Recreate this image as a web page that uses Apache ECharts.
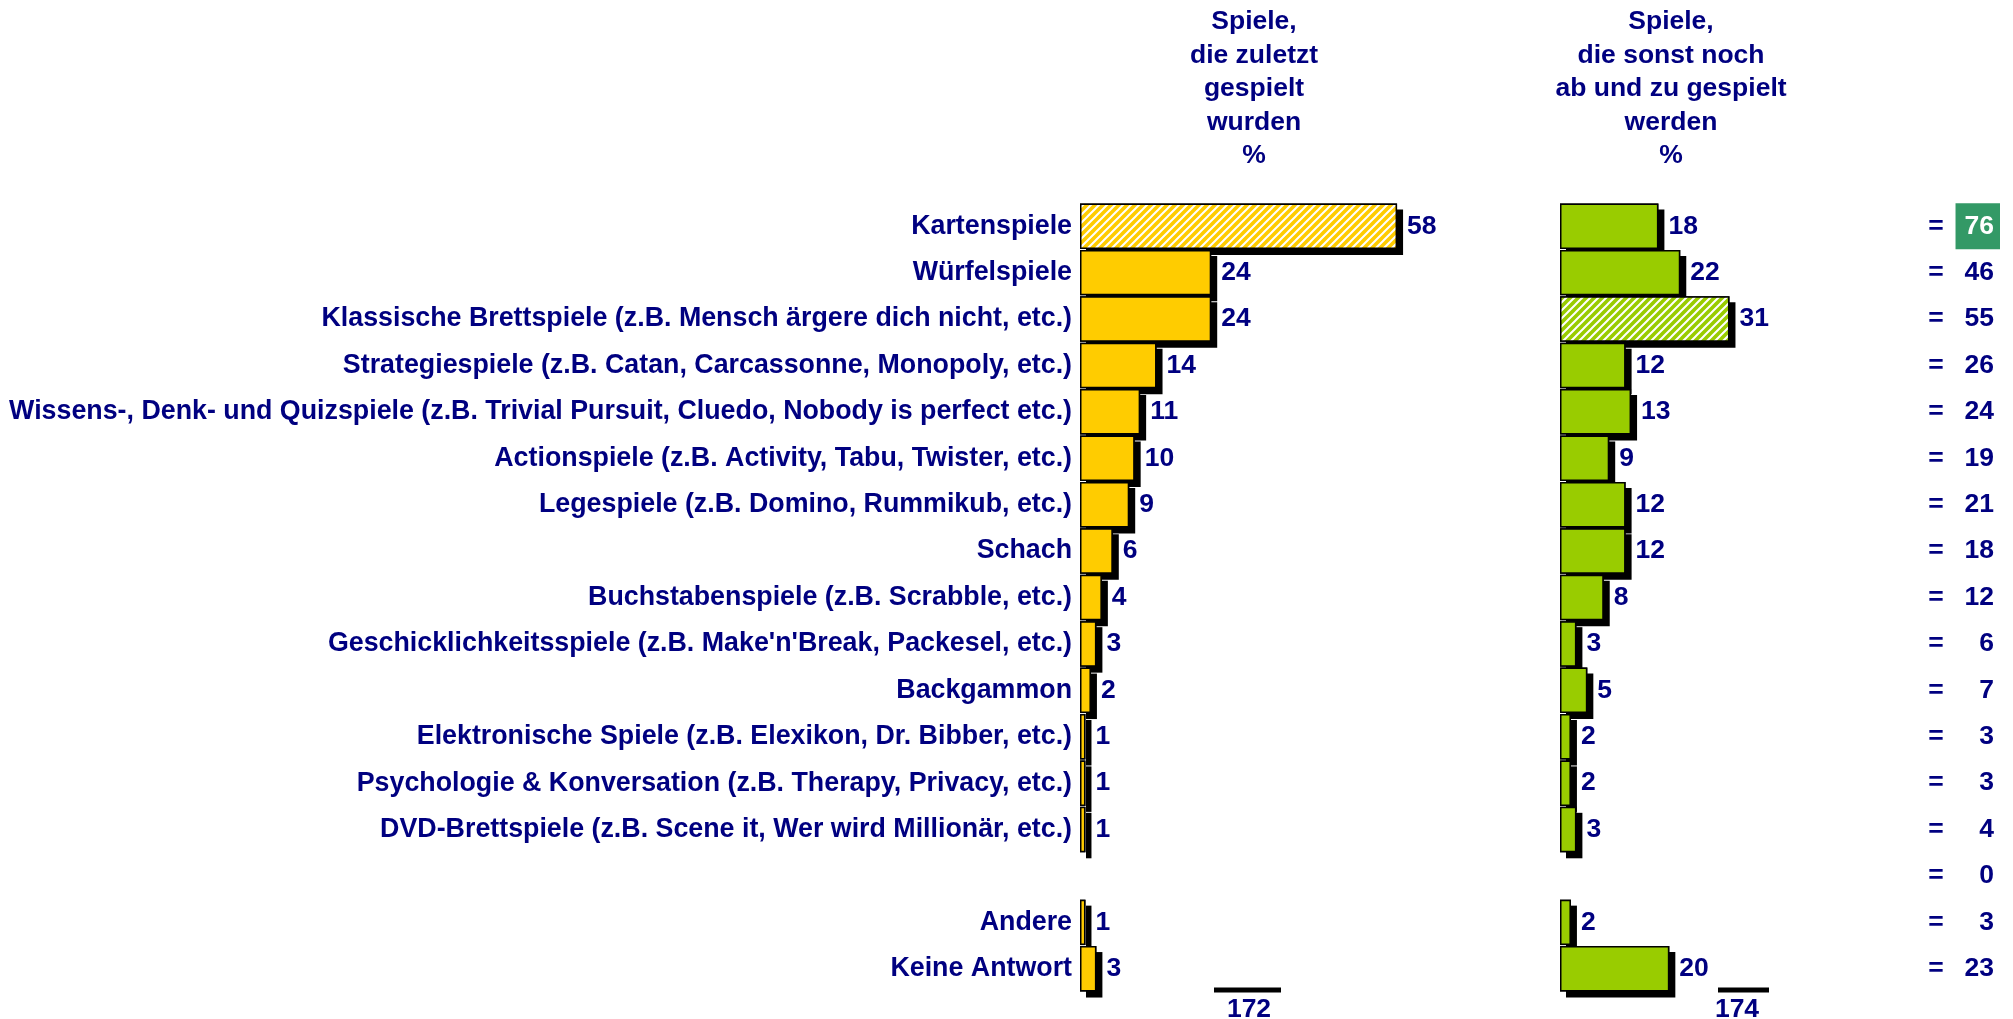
<!DOCTYPE html>
<html>
<head>
<meta charset="utf-8">
<script src="https://cdn.jsdelivr.net/npm/echarts@6.0.0/dist/echarts.min.js"></script>
<style>
  html, body { margin: 0; padding: 0; background: #fff; }
  #main { width: 2013px; height: 1019px; }
</style>
</head>
<body>
<div id="main"></div>
<script>
// daten aus der grafik
const categories = [
  'Kartenspiele',
  'Würfelspiele',
  'Klassische Brettspiele (z.B. Mensch ärgere dich nicht, etc.)',
  'Strategiespiele (z.B. Catan, Carcassonne, Monopoly, etc.)',
  'Wissens-, Denk- und Quizspiele (z.B. Trivial Pursuit, Cluedo, Nobody is perfect etc.)',
  'Actionspiele (z.B. Activity, Tabu, Twister, etc.)',
  'Legespiele (z.B. Domino, Rummikub, etc.)',
  'Schach',
  'Buchstabenspiele (z.B. Scrabble, etc.)',
  'Geschicklichkeitsspiele (z.B. Make\'n\'Break, Packesel, etc.)',
  'Backgammon',
  'Elektronische Spiele (z.B. Elexikon, Dr. Bibber, etc.)',
  'Psychologie & Konversation (z.B. Therapy, Privacy, etc.)',
  'DVD-Brettspiele (z.B. Scene it, Wer wird Millionär, etc.)',
  '',
  'Andere',
  'Keine Antwort'
];
const zuletzt = [58, 24, 24, 14, 11, 10, 9, 6, 4, 3, 2, 1, 1, 1, null, 1, 3];
const sonst = [18, 22, 31, 12, 13, 9, 12, 12, 8, 3, 5, 2, 2, 3, null, 2, 20];
const summe = [76, 46, 55, 26, 24, 19, 21, 18, 12, 6, 7, 3, 3, 4, 0, 3, 23];
const totals = [172, 174];
const hatchZuletzt = 0;   // index mit schraffur links
const hatchSonst = 2;     // index mit schraffur rechts
const highlightSum = 0;   // index mit gruenem kasten

const NAVY = '#000080';
const FONT = '"Liberation Sans", Arial, sans-serif';
const FS = 26.5;

function hatch(base) {
  const c = document.createElement('canvas');
  c.width = 8; c.height = 8;
  const ctx = c.getContext('2d');
  ctx.fillStyle = base;
  ctx.fillRect(0, 0, 8, 8);
  ctx.strokeStyle = '#ffffff';
  ctx.lineWidth = 2;
  ctx.beginPath();
  ctx.moveTo(-2, 10); ctx.lineTo(10, -2);
  ctx.moveTo(-6, 6); ctx.lineTo(6, -6);
  ctx.moveTo(2, 14); ctx.lineTo(14, 2);
  ctx.stroke();
  return { image: c, repeat: 'repeat' };
}

function barData(values, hatchIdx, base) {
  return values.map((v, i) => {
    if (v == null) return '-';
    if (hatchIdx != null && i === hatchIdx) return { value: v, itemStyle: { color: hatch(base) } };
    return v;
  });
}

const chart = echarts.init(document.getElementById('main'));

const gridTop = 203, gridH = 789;
const valLabel = {
  show: true,
  position: 'right',
  distance: 10,
  color: NAVY,
  fontFamily: FONT,
  fontWeight: 'bold',
  fontSize: FS
};
const headerStyle = {
  color: NAVY,
  fontFamily: FONT,
  fontWeight: 'bold',
  fontSize: FS,
  lineHeight: 33.5,
  align: 'center'
};

// schatten-balken (schwarz, versetzt), danach die farbigen balken darueber
function shadowSeries(values, gi) {
  return {
    type: 'bar',
    xAxisIndex: gi, yAxisIndex: gi,
    barCategoryGap: '2%',
    silent: true,
    data: barData(values, null),
    itemStyle: {
      color: '#000',
      shadowColor: '#000',
      shadowBlur: 0,
      shadowOffsetX: 6,
      shadowOffsetY: 6
    }
  };
}
function mainSeries(name, values, gi, hatchIdx, color) {
  return {
    name: name,
    type: 'bar',
    xAxisIndex: gi, yAxisIndex: gi,
    barCategoryGap: '2%',
    barGap: '-100%',
    data: barData(values, hatchIdx, color),
    itemStyle: { color: color, borderColor: '#000', borderWidth: 1.5 },
    label: valLabel
  };
}

const option = {
  animation: false,
  backgroundColor: '#fff',
  title: [
    { text: 'Spiele,\ndie zuletzt\ngespielt\nwurden\n%', left: 1249, top: 0, textAlign: 'center', textStyle: headerStyle },
    { text: 'Spiele,\ndie sonst noch\nab und zu gespielt\nwerden\n%', left: 1666, top: 0, textAlign: 'center', textStyle: headerStyle }
  ],
  grid: [
    { left: 1080, top: gridTop, width: 328, height: gridH, outerBoundsMode: 'none' },
    { left: 1560, top: gridTop, width: 328, height: gridH, outerBoundsMode: 'none' },
    { left: 1900, top: gridTop, width: 100, height: gridH, outerBoundsMode: 'none' }
  ],
  xAxis: [0, 1, 2].map(i => ({
    type: 'value', gridIndex: i, min: 0, max: i < 2 ? 60 : 100, show: false
  })),
  yAxis: [0, 1, 2].map(i => ({
    type: 'category',
    gridIndex: i,
    data: categories,
    inverse: true,
    axisLine: { show: false },
    axisTick: { show: false },
    splitLine: { show: false },
    axisLabel: i === 0 ? {
      show: true,
      margin: 8,
      color: NAVY,
      fontFamily: FONT,
      fontWeight: 'bold',
      fontSize: 26.8
    } : { show: false }
  })),
  series: [
    shadowSeries(zuletzt, 0),
    mainSeries('zuletzt', zuletzt, 0, hatchZuletzt, '#FFCC00'),
    shadowSeries(sonst, 1),
    mainSeries('sonst', sonst, 1, hatchSonst, '#99CC00'),
    {
      name: 'gleich',
      type: 'scatter',
      xAxisIndex: 2, yAxisIndex: 2,
      symbolSize: 0,
      itemStyle: { opacity: 1 },
      data: summe.map((v, i) => [36, i]),
      label: {
        show: true, position: 'inside', formatter: '=',
        color: NAVY, fontFamily: FONT, fontWeight: 'bold', fontSize: FS
      }
    },
    {
      name: 'summe',
      type: 'scatter',
      xAxisIndex: 2, yAxisIndex: 2,
      symbolSize: 0,
      itemStyle: { opacity: 1 },
      data: summe.map((v, i) => {
        const d = { value: [94, i, v] };
        if (i === highlightSum) {
          d.label = {
            color: '#fff',
            backgroundColor: '#339966',
            padding: [10, 6, 9, 9],
            offset: [6, 0]
          };
        }
        return d;
      }),
      label: {
        show: true, position: 'left', distance: 0,
        formatter: p => p.value[2],
        color: NAVY, fontFamily: FONT, fontWeight: 'bold', fontSize: FS
      }
    }
  ],
  graphic: [
    { type: 'line', shape: { x1: 1214, y1: 990, x2: 1281, y2: 990 }, style: { stroke: '#000', lineWidth: 5 } },
    { type: 'text', x: 1249, y: 1010, style: { text: String(totals[0]), fill: NAVY, font: 'bold ' + FS + 'px ' + FONT, textAlign: 'center', textVerticalAlign: 'middle' } },
    { type: 'line', shape: { x1: 1718, y1: 990, x2: 1769, y2: 990 }, style: { stroke: '#000', lineWidth: 5 } },
    { type: 'text', x: 1737, y: 1010, style: { text: String(totals[1]), fill: NAVY, font: 'bold ' + FS + 'px ' + FONT, textAlign: 'center', textVerticalAlign: 'middle' } }
  ]
};

chart.setOption(option);
</script>
</body>
</html>
